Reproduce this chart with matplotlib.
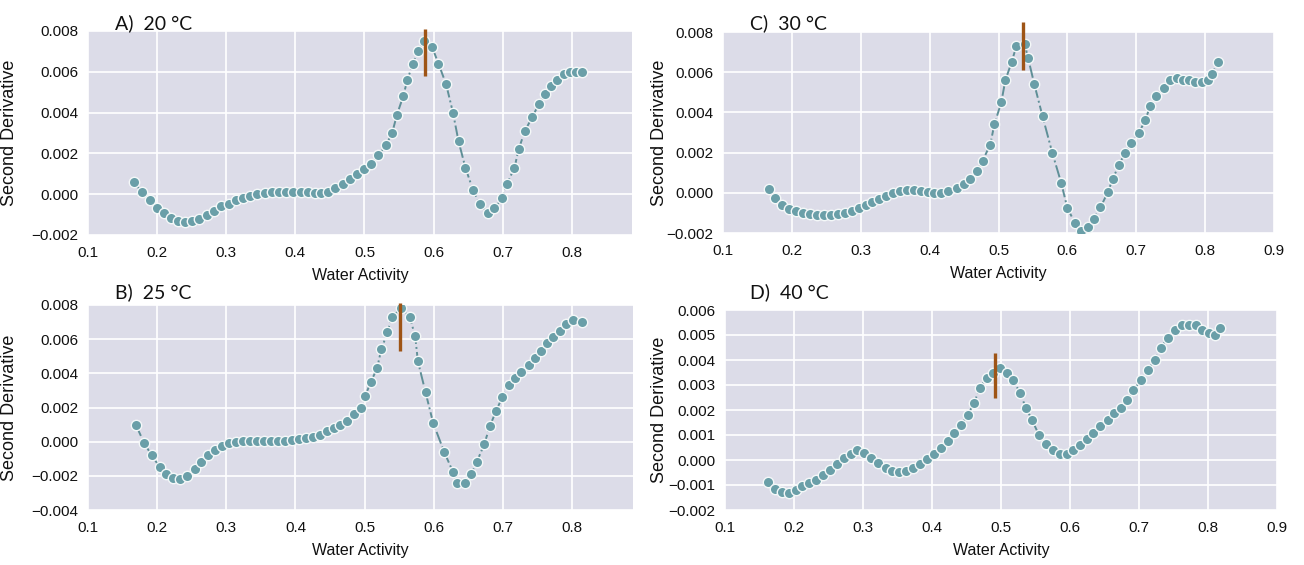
import numpy as np
import matplotlib
matplotlib.use('Agg')
import matplotlib.pyplot as plt
from matplotlib.ticker import FuncFormatter

plt.rcParams['font.family'] = ['Liberation Sans', 'DejaVu Sans']

# ---- data ----
# A) 20 C
xA = [0.166, 0.178, 0.189, 0.200, 0.210, 0.220, 0.230, 0.240, 0.250, 0.260, 0.272, 0.283, 0.293,
      0.304, 0.314, 0.324, 0.335, 0.345, 0.356, 0.366, 0.376, 0.387, 0.397, 0.408, 0.418, 0.428,
      0.437, 0.447, 0.458, 0.469, 0.479, 0.489, 0.500, 0.510, 0.520, 0.531, 0.540, 0.547, 0.556,
      0.562, 0.570, 0.577, 0.586, 0.598, 0.607, 0.618, 0.628, 0.636, 0.646, 0.657, 0.667, 0.678,
      0.688, 0.699, 0.706, 0.717, 0.723, 0.732, 0.743, 0.752, 0.761, 0.770, 0.779, 0.788, 0.797,
      0.806, 0.815]
yA = [0.0006, 0.0001, -0.0003, -0.00066, -0.0009, -0.00115, -0.0013, -0.00137, -0.0013, -0.0012,
      -0.00104, -0.0008, -0.0006, -0.00046, -0.0003, -0.00018, -0.0001, 0.0, 0.00005, 0.0001,
      0.0001, 0.0001, 0.0001, 0.0001, 0.0001, 0.00008, 0.00005, 0.0001, 0.0003, 0.0005, 0.00074,
      0.001, 0.00123, 0.0015, 0.0019, 0.0024, 0.003, 0.0039, 0.0048, 0.0056, 0.0064, 0.007, 0.0075,
      0.0072, 0.0064, 0.0054, 0.004, 0.0026, 0.0013, 0.0002, -0.0005, -0.0009, -0.0007, -0.0002,
      0.0005, 0.0013, 0.0022, 0.0031, 0.0038, 0.0044, 0.0049, 0.0053, 0.0056, 0.0059, 0.006,
      0.006, 0.006]

# B) 25 C
xB = [0.169, 0.181, 0.192, 0.204, 0.213, 0.223, 0.233, 0.243, 0.254, 0.264, 0.274, 0.284, 0.294,
      0.304, 0.314, 0.324, 0.334, 0.344, 0.355, 0.364, 0.375, 0.385, 0.395, 0.405, 0.415, 0.425,
      0.435, 0.445, 0.455, 0.465, 0.475, 0.484, 0.494, 0.501, 0.509, 0.518, 0.524, 0.533, 0.539,
      0.553, 0.565, 0.573, 0.577, 0.588, 0.599, 0.615, 0.628, 0.634, 0.645, 0.654, 0.662, 0.673,
      0.681, 0.690, 0.699, 0.708, 0.717, 0.726, 0.737, 0.746, 0.755, 0.763, 0.772, 0.782, 0.791,
      0.801, 0.814]
yB = [0.001, -0.00006, -0.0008, -0.0015, -0.0019, -0.0021, -0.0022, -0.002, -0.0016, -0.0012,
      -0.0008, -0.0005, -0.00025, -0.0001, 0.0, 0.00006, 0.00006, 0.00006, 0.00004, 0.00004,
      0.00006, 0.00006, 0.0001, 0.00016, 0.00023, 0.0003, 0.0004, 0.0006, 0.0008, 0.001, 0.0012,
      0.0016, 0.002, 0.0027, 0.0035, 0.0043, 0.0054, 0.0064, 0.0073, 0.0078, 0.0073, 0.0062,
      0.0047, 0.0029, 0.0011, -0.0006, -0.0018, -0.0024, -0.0024, -0.0019, -0.0012, -0.00014,
      0.0009, 0.0018, 0.0026, 0.0033, 0.0037, 0.0041, 0.0045, 0.0049, 0.0053, 0.0058, 0.0061,
      0.0065, 0.0069, 0.0071, 0.007]

# C) 30 C
xC = [0.167, 0.176, 0.186, 0.196, 0.206, 0.216, 0.226, 0.236, 0.246, 0.257, 0.267, 0.277, 0.287,
      0.297, 0.307, 0.317, 0.327, 0.337, 0.347, 0.357, 0.367, 0.377, 0.387, 0.397, 0.407, 0.417,
      0.427, 0.440, 0.450, 0.459, 0.469, 0.477, 0.488, 0.494, 0.504, 0.510, 0.519, 0.526, 0.538,
      0.543, 0.552, 0.564, 0.578, 0.591, 0.600, 0.611, 0.620, 0.630, 0.638, 0.648, 0.659, 0.666,
      0.675, 0.684, 0.693, 0.704, 0.713, 0.720, 0.729, 0.740, 0.749, 0.759, 0.768, 0.777, 0.786,
      0.795, 0.804, 0.810, 0.818]
yC = [0.0002, -0.00024, -0.0006, -0.0008, -0.0009, -0.001, -0.00105, -0.0011, -0.0011, -0.0011,
      -0.00105, -0.001, -0.0009, -0.00076, -0.00063, -0.00047, -0.0003, -0.00015, 0.0, 0.00008,
      0.00013, 0.00013, 0.00008, 0.00005, 0.0, 0.0, 0.0001, 0.00024, 0.00045, 0.0007, 0.0011,
      0.0016, 0.0024, 0.0034, 0.0045, 0.0056, 0.0065, 0.0073, 0.0074, 0.0067, 0.0054, 0.0038,
      0.002, 0.0005, -0.00076, -0.0015, -0.0019, -0.0017, -0.0013, -0.00073, 0.00005, 0.0007,
      0.0014, 0.002, 0.0025, 0.003, 0.0036, 0.0043, 0.0048, 0.0052, 0.0056, 0.0057, 0.0056,
      0.0056, 0.0055, 0.0055, 0.0056, 0.0059, 0.0065]

# D) 40 C
xD = [0.163, 0.173, 0.183, 0.193, 0.203, 0.212, 0.222, 0.232, 0.242, 0.252, 0.262, 0.272, 0.282,
      0.292, 0.302, 0.312, 0.322, 0.333, 0.342, 0.352, 0.363, 0.372, 0.383, 0.393, 0.403, 0.413,
      0.423, 0.432, 0.442, 0.452, 0.461, 0.470, 0.479, 0.488, 0.499, 0.509, 0.518, 0.527, 0.536,
      0.545, 0.555, 0.565, 0.575, 0.585, 0.595, 0.605, 0.614, 0.625, 0.634, 0.644, 0.655, 0.664,
      0.674, 0.683, 0.692, 0.703, 0.713, 0.723, 0.732, 0.742, 0.752, 0.762, 0.772, 0.782, 0.792,
      0.801, 0.810, 0.818]
yD = [-0.00088, -0.00114, -0.00128, -0.00132, -0.00121, -0.00105, -0.00092, -0.00079, -0.00059,
      -0.00038, -0.00016, 0.00007, 0.00024, 0.0004, 0.0003, 0.0001, -0.0001, -0.0003, -0.00042,
      -0.00046, -0.00042, -0.00033, -0.00016, 0.00004, 0.00026, 0.0005, 0.00076, 0.0011, 0.0014,
      0.0018, 0.0023, 0.0029, 0.0033, 0.0035, 0.0037, 0.0035, 0.0032, 0.0027, 0.0021, 0.0016,
      0.001, 0.00066, 0.0004, 0.00026, 0.00026, 0.0004, 0.0006, 0.00083, 0.0011, 0.00136, 0.0016,
      0.0019, 0.0021, 0.0024, 0.0028, 0.0032, 0.0036, 0.004, 0.0045, 0.0049, 0.0052, 0.0054,
      0.0054, 0.0054, 0.0052, 0.0051, 0.005, 0.0053]

titles = ['A)  20 °C', 'B)  25 °C', 'C)  30 °C', 'D)  40 °C']
peak_x = [0.588, 0.551, 0.535, 0.492]
peak_lo = [0.0058, 0.0053, 0.0061, 0.0025]
peak_hi = [0.0081, 0.0081, 0.0085, 0.0043]

xmax = [0.887, 0.888, 0.9, 0.9]
ylims = [(-0.002, 0.008), (-0.004, 0.008), (-0.002, 0.008), (-0.002, 0.006)]
ystep = [0.002, 0.002, 0.002, 0.001]

W, H = 1304, 565
# panel boxes in pixels: left, right, top, bottom
boxes = [(88, 632, 31, 235), (88, 633, 305, 510), (723, 1274, 32, 233), (725, 1277, 310, 510)]
title_pos = [(115, 29), (115, 298), (750, 29), (750, 298)]

fig = plt.figure(figsize=(W / 100, H / 100), dpi=100)
fig.patch.set_facecolor('white')

data = [(xA, yA), (xB, yB), (xC, yC), (xD, yD)]
pt_color = '#6a9fa8'
bg = '#dcdce8'

minus_fmt = FuncFormatter(lambda v, p: ('%.3f' % v).replace('-', '\u2212'))

for i in range(4):
    l, r, t, b = boxes[i]
    ax = fig.add_axes([l / W, 1 - b / H, (r - l) / W, (b - t) / H])
    ax.set_facecolor(bg)
    x, y = data[i]
    ax.plot(x, y, linestyle='-.', color='#5f8f97', lw=1.4, marker='o', markersize=7.5,
            markerfacecolor=pt_color, markeredgecolor='#f4f8f8', markeredgewidth=1.0, zorder=3)
    ax.vlines(peak_x[i], peak_lo[i], peak_hi[i], color='#9e5416', lw=2.4, zorder=4, clip_on=False)

    ax.set_xlim(0.1, xmax[i])
    ax.set_ylim(*ylims[i])
    ax.set_xticks(np.arange(0.1, xmax[i] + 0.001, 0.1))
    ax.xaxis.set_major_formatter(FuncFormatter(lambda v, p: '%.1f' % v))
    ax.set_yticks(np.arange(ylims[i][0], ylims[i][1] + 1e-9, ystep[i]))
    ax.yaxis.set_major_formatter(minus_fmt)
    ax.grid(True, color='white', lw=1.2)
    ax.set_axisbelow(True)
    for s in ax.spines.values():
        s.set_visible(False)
    ax.tick_params(length=0, labelsize=11, colors='#111111')
    ax.tick_params(axis='x', pad=8)
    ax.tick_params(axis='y', pad=7)

    ax.set_xlabel('Water Activity', fontsize=11.5, color='#111111', labelpad=6)
    ax.set_ylabel('Second Derivative', fontsize=13, color='#111111')
    ax.yaxis.set_label_coords((18 - l) / (r - l) if i < 2 else (668 - l) / (r - l), 0.5)

    tx, ty = title_pos[i]
    fig.text(tx / W, 1 - ty / H, titles[i], fontsize=14, family=['Lato', 'DejaVu Sans'],
             va='baseline', ha='left', color='#111111')

fig.savefig('out.png', dpi=100, facecolor='white')
